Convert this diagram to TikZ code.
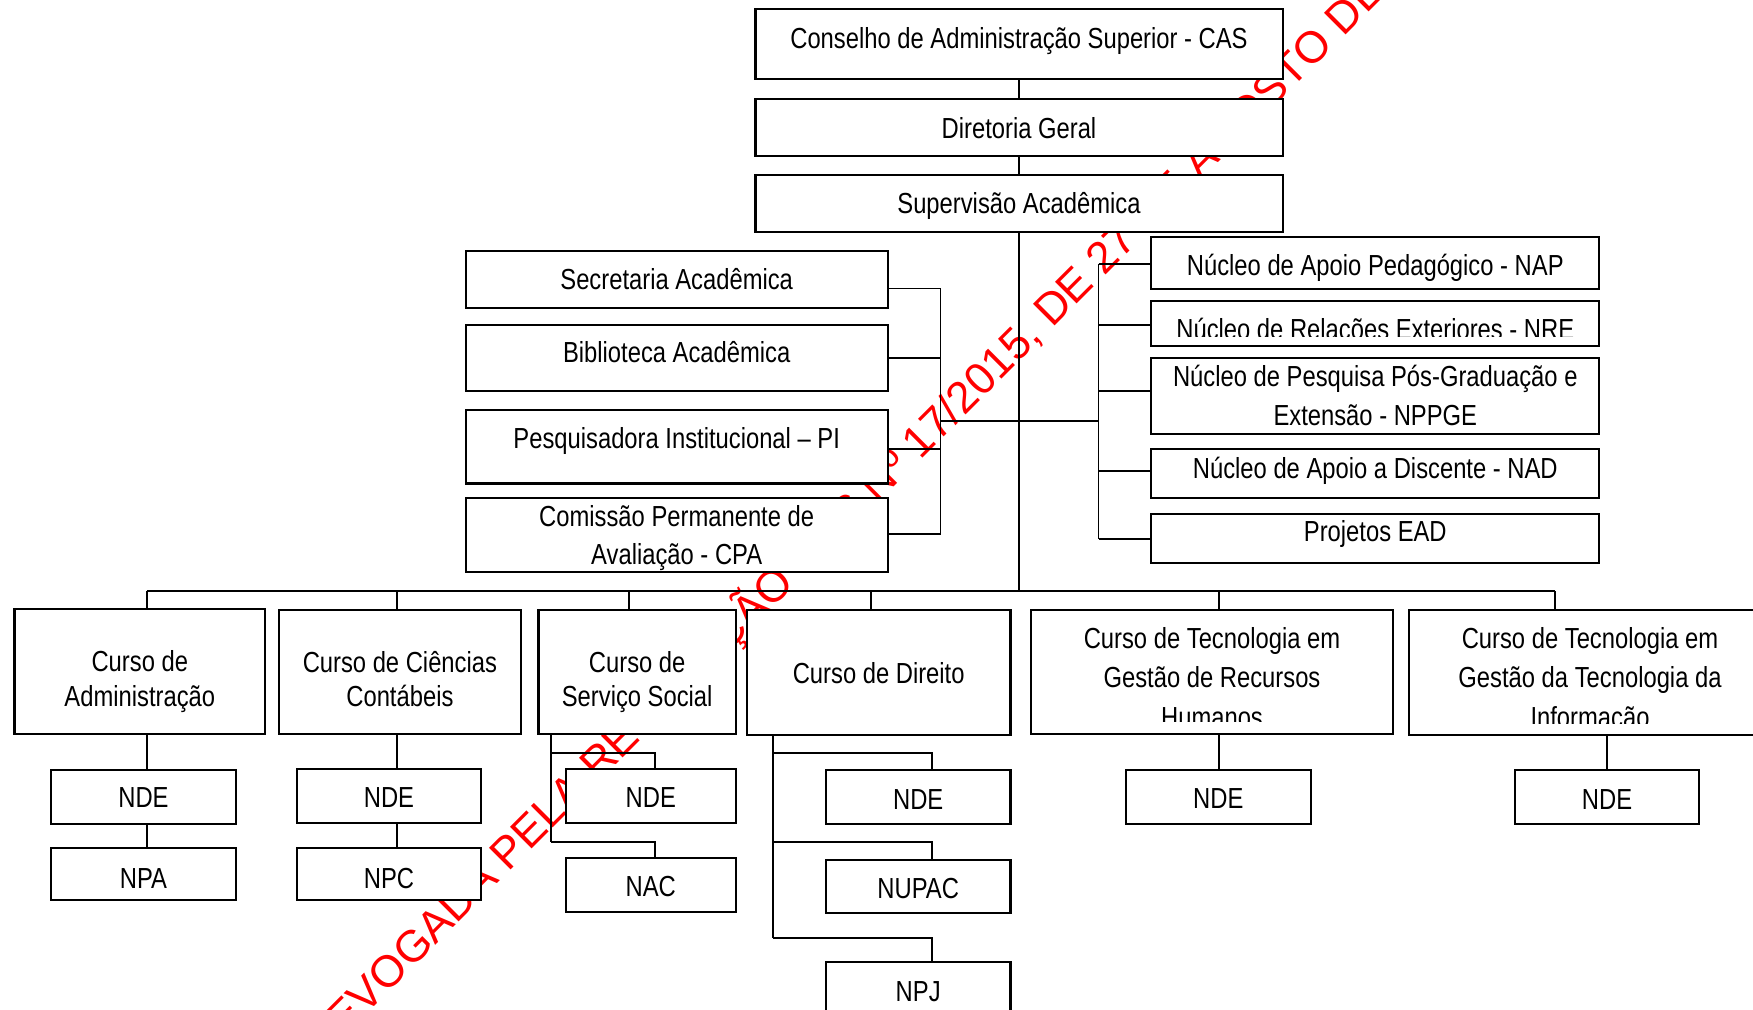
\documentclass[tikz,border=0pt]{standalone}
\usepackage{fontspec}
\setmainfont{Liberation Sans}[FakeStretch=0.82]
\newfontfamily\wmfont{Liberation Sans}
\usetikzlibrary{fit}
\tikzset{
  box/.style={draw=black, line width=0.85pt, fill=white, inner sep=0pt},
  conn/.style={draw=black, line width=0.75pt},
  txt/.style={inner sep=0pt, anchor=base, font=\fontsize{11.6}{14}\selectfont},
  wm/.style={text=red, font=\wmfont\fontsize{17.8}{20}\selectfont, inner sep=0pt, anchor=base west, rotate=45}
}
\begin{document}
\begin{tikzpicture}[x=0.4pt,y=-0.4pt]
\useasboundingbox (0,0) rectangle (1753,1009);
\clip (0,0) rectangle (1753,1009);
\fill[white] (0,0) rectangle (1753,1009);
% watermark
\node[wm] (wmark) at (321.5,1059.5) {REVOGADA PELA RESOLUÇÃO CAS Nº 17/2015, DE 27 DE AGOSTO DE};

% connector coordinates
\coordinate (L) at (940.5,421);
\coordinate (R) at (1098.5,421);
\coordinate (ls1) at (940.5,288.5);
\coordinate (ls2) at (940.5,358);
\coordinate (ls3) at (940.5,449.3);
\coordinate (ls4) at (940.5,534.3);
\coordinate (rs1) at (1098.5,264.3);
\coordinate (rs2) at (1098.5,325);
\coordinate (rs3) at (1098.5,390.7);
\coordinate (rs4) at (1098.5,471);
\coordinate (rs5) at (1098.5,538.7);
\coordinate (b1) at (146.9,591);
\coordinate (b2) at (396.8,591);
\coordinate (b3) at (629.2,591);
\coordinate (b4) at (870.9,591);
\coordinate (b5) at (1218.6,591);
\coordinate (b6) at (1554.6,591);
\coordinate (jc) at (1019.3,591);
\coordinate (ssv1) at (551.1,752.7);
\coordinate (ssv2) at (551.1,841.7);
\coordinate (ssx1) at (654.9,752.7);
\coordinate (ssx2) at (654.9,841.7);
\coordinate (dv1) at (773,752.7);
\coordinate (dv2) at (773,842.3);
\coordinate (dv3) at (773,937.7);
\coordinate (dx1) at (931.6,752.7);
\coordinate (dx2) at (931.6,842.3);
\coordinate (dx3) at (931.6,937.7);

% boxes
\node[box, fit={(755.5,9.3) (1282.6,78.7)}] (cas) {};
\node[box, fit={(755.5,99.3) (1282.6,156)}] (dg) {};
\node[box, fit={(755.5,175.3) (1282.6,232)}] (sa) {};
\node[box, fit={(465.6,250.7) (887.8,308)}] (sec) {};
\node[box, fit={(465.6,325) (887.8,391.3)}] (bib) {};
\node[box, fit={(465.6,410) (887.8,483.5)}] (pes) {};
\node[box, fit={(465.6,498) (887.8,572.3)}] (com) {};
\node[box, fit={(1151.3,237.3) (1599.2,289)}] (nap) {};
\node[box, fit={(1151.3,301) (1599.2,346.3)}] (nre) {};
\node[box, fit={(1151.3,357.7) (1599.2,433.7)}] (nppge) {};
\node[box, fit={(1151.3,449) (1599.2,498.3)}] (nad) {};
\node[box, fit={(1151.3,513.7) (1599.2,562.7)}] (ead) {};
\node[box, fit={(14.5,609) (265.1,733.7)}] (adm) {};
\node[box, fit={(278.7,609.7) (521.1,733.7)}] (cc) {};
\node[box, fit={(538.5,609.7) (735.8,733.7)}] (ss) {};
\node[box, fit={(747,610.3) (1010.5,734.7)}] (dir) {};
\node[box, fit={(1030.7,610.3) (1393.4,733.7)}] (grh) {};
\node[box, fit={(1409,610.3) (1771,734.7)}] (gti) {};
\node[box, fit={(50.9,770) (236.1,823.7)}] (ndea) {};
\node[box, fit={(50.9,848.3) (236.1,900)}] (npa) {};
\node[box, fit={(296.7,769) (481.3,823)}] (ndec) {};
\node[box, fit={(296.7,848.3) (481.3,900)}] (npc) {};
\node[box, fit={(565.7,769) (735.8,823)}] (ndes) {};
\node[box, fit={(565.7,858.3) (735.8,912.3)}] (nac) {};
\node[box, fit={(825.9,770) (1010.5,824.3)}] (nded) {};
\node[box, fit={(825.9,860) (1010.5,913.3)}] (nupac) {};
\node[box, fit={(825.9,962.3) (1010.5,1030)}] (npj) {};
\node[box, fit={(1126,769.7) (1310.6,823.7)}] (ndeg) {};
\node[box, fit={(1514.7,770.3) (1699.3,824.3)}] (ndet) {};

% connectors
\draw[conn] (cas.south) -- (dg.north);
\draw[conn] (dg.south) -- (sa.north);
\draw[conn] (sa.south) -- (sa.south |- jc);
\draw[conn] (L) -- (R);
\draw[conn] (ls1) -- (ls4);
\draw[conn] (ls1) -- (ls1 -| sec.east);
\draw[conn] (ls2) -- (ls2 -| bib.east);
\draw[conn] (ls3) -- (ls3 -| pes.east);
\draw[conn] (ls4) -- (ls4 -| com.east);
\draw[conn] (rs1) -- (rs5);
\draw[conn] (rs1) -- (rs1 -| nap.west);
\draw[conn] (rs2) -- (rs2 -| nre.west);
\draw[conn] (rs3) -- (rs3 -| nppge.west);
\draw[conn] (rs4) -- (rs4 -| nad.west);
\draw[conn] (rs5) -- (rs5 -| ead.west);
\draw[conn] (b1) -- (b6);
\draw[conn] (b1) -- (b1 |- adm.north);
\draw[conn] (b2) -- (b2 |- cc.north);
\draw[conn] (b3) -- (b3 |- ss.north);
\draw[conn] (b4) -- (b4 |- dir.north);
\draw[conn] (b5) -- (b5 |- grh.north);
\draw[conn] (b6) -- (b6 |- gti.north);
\draw[conn] (b1 |- adm.south) -- (b1 |- ndea.north);
\draw[conn] (b1 |- ndea.south) -- (b1 |- npa.north);
\draw[conn] (b2 |- cc.south) -- (b2 |- ndec.north);
\draw[conn] (b2 |- ndec.south) -- (b2 |- npc.north);
\draw[conn] (ssv1 |- ss.south) -- (ssv2);
\draw[conn] (ssv1) -- (ssx1) -- (ssx1 |- ndes.north);
\draw[conn] (ssv2) -- (ssx2) -- (ssx2 |- nac.north);
\draw[conn] (dv1 |- dir.south) -- (dv3);
\draw[conn] (dv1) -- (dx1) -- (dx1 |- nded.north);
\draw[conn] (dv2) -- (dx2) -- (dx2 |- nupac.north);
\draw[conn] (dv3) -- (dx3) -- (dx3 |- npj.north);
\draw[conn] (b5 |- grh.south) -- (b5 |- ndeg.north);
\draw[conn] (ndet.north) -- (ndet.north |- gti.south);

% texts
\node[txt] (tcas) at (1019,48) {Conselho de Administração Superior - CAS};
\node[txt] (tdg) at (1019,138) {Diretoria Geral};
\node[txt] (tsa) at (1019,213.5) {Supervisão Acadêmica};
\node[txt] (tsec) at (676.7,289.5) {Secretaria Acadêmica};
\node[txt] (tbib) at (676.7,362.7) {Biblioteca Acadêmica};
\node[txt] (tpes) at (676.7,448.3) {Pesquisadora Institucional – PI};
\node[txt] (tcom1) at (676.7,526) {Comissão Permanente de};
\node[txt] (tcom2) at (676.7,564.3) {Avaliação - CPA};
\node[txt] (tnap) at (1375.3,275) {Núcleo de Apoio Pedagógico - NAP};
\begin{scope}
\clip (nre.north west) rectangle (1599.2,336.5);
\node[txt] (tnre) at (1375.3,339) {Núcleo de Relações Exteriores - NRE};
\end{scope}
\node[txt] (tnp1) at (1375.3,386) {Núcleo de Pesquisa Pós-Graduação e};
\node[txt] (tnp2) at (1375.3,425) {Extensão - NPPGE};
\node[txt] (tnad) at (1375.3,478.3) {Núcleo de Apoio a Discente - NAD};
\node[txt] (tead) at (1375.3,541.7) {Projetos EAD};
\node[txt] (tadm1) at (139.8,671.7) {Curso de};
\node[txt] (tadm2) at (139.8,706) {Administração};
\node[txt] (tcc1) at (399.9,672.3) {Curso de Ciências};
\node[txt] (tcc2) at (399.9,706.7) {Contábeis};
\node[txt] (tss1) at (637.2,672) {Curso de};
\node[txt] (tss2) at (637.2,706.5) {Serviço Social};
\node[txt] (tdir) at (878.7,683.3) {Curso de Direito};
\node[txt] (tgrh1) at (1212,648.3) {Curso de Tecnologia em};
\node[txt] (tgrh2) at (1212,687.3) {Gestão de Recursos};
\begin{scope}
\clip (grh.north west) rectangle (1393.4,721.7);
\node[txt] (tgrh3) at (1212,727) {Humanos};
\end{scope}
\node[txt] (tgti1) at (1590,648.3) {Curso de Tecnologia em};
\node[txt] (tgti2) at (1590,687.3) {Gestão da Tecnologia da};
\begin{scope}
\clip (gti.north west) rectangle (1771,723.3);
\node[txt] (tgti3) at (1590,727) {Informação};
\end{scope}
\node[txt] (tndea) at (143.5,807.7) {NDE};
\node[txt] (tnpa) at (143.5,888.3) {NPA};
\node[txt] (tndec) at (389,807.3) {NDE};
\node[txt] (tnpc) at (389,888.3) {NPC};
\node[txt] (tndes) at (650.8,807.3) {NDE};
\node[txt] (tnac) at (650.8,896.7) {NAC};
\node[txt] (tnded) at (918.2,809) {NDE};
\node[txt] (tnupac) at (918.2,898.3) {NUPAC};
\node[txt] (tnpj) at (918.2,1001.7) {NPJ};
\node[txt] (tndeg) at (1218.3,808.3) {NDE};
\node[txt] (tndet) at (1607,809) {NDE};
\end{tikzpicture}
\end{document}
